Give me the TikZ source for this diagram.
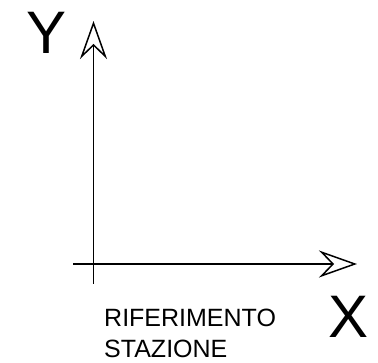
\documentclass[tikz,border=0pt]{standalone}
\usepackage{fontspec}
\setmainfont{Liberation Sans}
\usetikzlibrary{positioning,arrows.meta}

\begin{document}
\begin{tikzpicture}[x=1pt, y=1pt, every node/.style={font=\fontsize{25}{30}\selectfont, inner sep=0pt}]
\tikzstyle{axis}=[line width=1.5pt, -{Stealth[open, length=38pt, width=27pt, inset=13pt]}]
\tikzstyle{bigletter}=[font=\fontsize{60}{60}\selectfont, anchor=base]
\useasboundingbox (0,0) rectangle (378,362);
\coordinate (ybot) at (93.5,78);
\coordinate (ytop) at (93.5,341);
\coordinate (xleft) at (73,98);
\coordinate (xright) at (357,98);
\draw[axis] (ybot)--(ytop);
\draw[axis] (xleft)--(xright);
\node[bigletter] (ylab) at (47,308) {Y};
\node[bigletter] (xlab) at (349,24) {X};
\node[anchor=base west] (rif) at (104,35) {RIFERIMENTO};
\node[anchor=base west] (staz) at (104,5) {STAZIONE};
\end{tikzpicture}
\end{document}
